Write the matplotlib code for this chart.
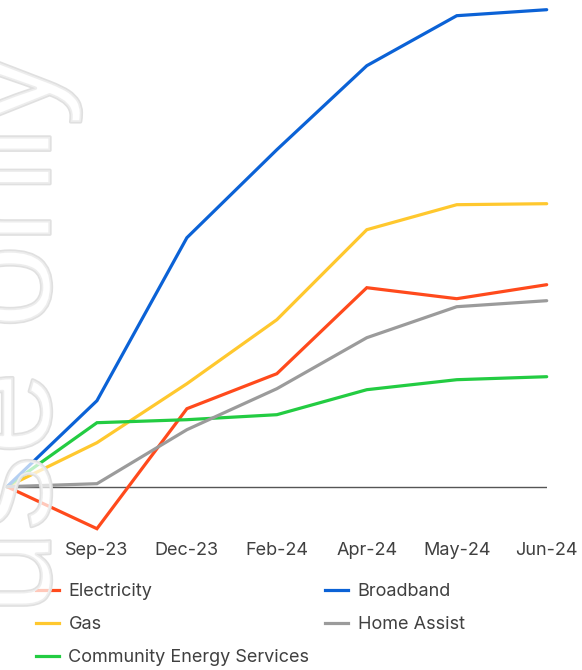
import matplotlib
matplotlib.use("Agg")
import matplotlib.pyplot as plt
import matplotlib.patheffects as pe
from matplotlib.lines import Line2D

# cumulative change since the start of the period (%), first point is the baseline
months = ["", "Sep-23", "Dec-23", "Feb-24", "Apr-24", "May-24", "Jun-24"]
electricity = [0, -4.2, 7.8, 11.3, 19.9, 18.8, 20.2]
gas = [0, 4.4, 10.3, 16.7, 25.7, 28.2, 28.3]
community = [0, 6.4, 6.7, 7.2, 9.7, 10.7, 11.0]
broadband = [0, 8.6, 24.9, 33.7, 42.1, 47.1, 47.7]
home_assist = [0, 0.3, 5.7, 9.8, 14.9, 18.0, 18.6]

series = [
    ("Electricity", electricity, "#ff4a1c"),
    ("Gas", gas, "#ffc82e"),
    ("Community Energy Services", community, "#23cc42"),
    ("Broadband", broadband, "#0b62d6"),
    ("Home Assist", home_assist, "#9b9b9b"),
]

plt.rcParams["font.family"] = ["Inter", "DejaVu Sans"]
TEXT = "#404040"

W, H = 582, 670
fig = plt.figure(figsize=(W / 100, H / 100), dpi=100)
ax = fig.add_axes([7 / W, (H - 536.7) / H, (546.7 - 7) / W, 530 / H])

x = list(range(len(months)))
handles = {}
for name, vals, col in series:
    (ln,) = ax.plot(x, vals, color=col, lw=2.3, solid_capstyle="round",
                    solid_joinstyle="miter", clip_on=False, zorder=3)
    handles[name] = ln

ax.axhline(0, color="#555555", lw=1.0, zorder=2)
ax.set_xlim(0, 6)
ax.set_ylim(-5, 48)
ax.set_yticks([])
ax.set_xticks(x)
ax.set_xticklabels(months, fontsize=13, color=TEXT)
ax.tick_params(axis="x", length=0, pad=4)
for s in ax.spines.values():
    s.set_visible(False)

# legend as two separate columns so each lines up on its own x
def column(names, x0):
    hs = [Line2D([], [], color=handles[n].get_color(), lw=2.3) for n in names]
    leg = fig.legend(hs, names, loc="upper left",
                     bbox_to_anchor=(x0 / W, (H - 583) / H),
                     frameon=False, fontsize=13, borderpad=0, borderaxespad=0,
                     handlelength=1.25, handletextpad=0.55, labelspacing=0.9,
                     labelcolor=TEXT)
    return leg

column(["Electricity", "Gas", "Community Energy Services"], 36)
column(["Broadband", "Home Assist"], 325)

# faint outlined watermark down the left edge
fig.text(50 / W, (H - 615) / H, "use only", rotation=90, rotation_mode="anchor",
         ha="left", va="baseline", fontsize=109, family="Liberation Sans",
         color=(1, 1, 1, 0.45), zorder=10,
         path_effects=[pe.withStroke(linewidth=2.4, foreground="#e0e0e0")])

fig.savefig("out.png", dpi=100)
